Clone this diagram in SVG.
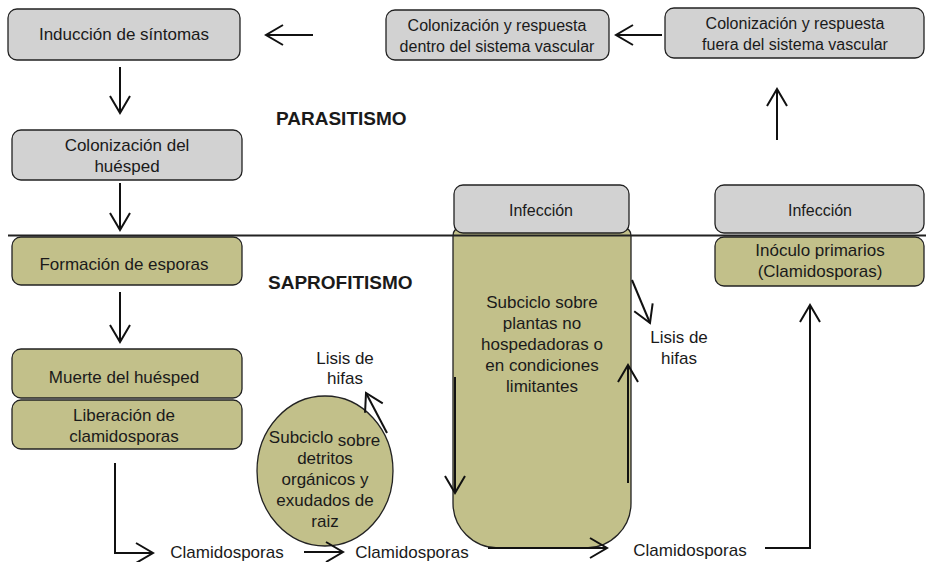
<svg xmlns="http://www.w3.org/2000/svg" width="926" height="562" viewBox="0 0 926 562">
<style>
text{font-family:"Liberation Sans",Arial,sans-serif;font-size:17px;fill:#1a1a1a;text-anchor:middle}
.s{font-size:16px}
.b{font-weight:bold;font-size:19px;text-anchor:start}
.g{fill:#d2d2d2;stroke:#222;stroke-width:1.3}
.o{fill:#c2c08a;stroke:#222;stroke-width:1.3}
.c{fill:none;stroke:#111;stroke-width:2}
</style>
<defs>
<marker id="a" markerUnits="userSpaceOnUse" orient="auto" refX="0" refY="0" overflow="visible">
<path d="M-17,-10 L0,0 L-17,10" fill="none" stroke="#111" stroke-width="2"/>
</marker>
</defs>
<g id="n-subciclo-plantas">
<path class="o" d="M461,228 H623 Q631,228 631,236 V503 A45,45 0 0 1 586,548 H498 A45,45 0 0 1 453,503 V236 Q453,228 461,228 Z"/>
<text x="542" y="308">Subciclo sobre</text>
<text x="542" y="329">plantas no</text>
<text x="542" y="350">hospedadoras o</text>
<text x="542" y="371">en condiciones</text>
<text x="542" y="392">limitantes</text>
</g>
<g id="n-induccion"><rect class="g" x="8" y="9" width="232" height="51" rx="9"/><text x="124" y="40">Inducción de síntomas</text></g>
<g id="n-col-dentro"><rect class="g" x="386" y="10" width="223" height="50" rx="9"/><text class="s" x="497" y="31">Colonización y respuesta</text><text class="s" x="497" y="52">dentro del sistema vascular</text></g>
<g id="n-col-fuera"><rect class="g" x="665" y="8" width="259" height="50" rx="9"/><text class="s" x="795" y="29">Colonización y respuesta</text><text class="s" x="795" y="50">fuera del sistema vascular</text></g>
<g id="n-col-huesped"><rect class="g" x="12" y="130" width="230" height="50" rx="9"/><text x="127" y="151">Colonización del</text><text x="127" y="172">huésped</text></g>
<g id="n-formacion"><rect class="o" x="12" y="237" width="230" height="48" rx="9"/><text x="124" y="270">Formación de esporas</text></g>
<g id="n-muerte"><rect class="o" x="12" y="349" width="230" height="49" rx="9"/><text x="124" y="383">Muerte del huésped</text></g>
<g id="n-liberacion"><rect class="o" x="12" y="400" width="230" height="49" rx="9"/><text x="124" y="421">Liberación de</text><text x="124" y="442">clamidosporas</text></g>
<g id="n-infeccion1"><rect class="g" x="454" y="185" width="175" height="48" rx="9"/><text class="s" x="541" y="216">Infección</text></g>
<g id="n-infeccion2"><rect class="g" x="715" y="185" width="209" height="48" rx="9"/><text class="s" x="820" y="216">Infección</text></g>
<g id="n-inoculo"><rect class="o" x="715" y="237" width="209" height="49" rx="9"/><text x="820" y="256">Inóculo primarios</text><text x="820" y="277">(Clamidosporas)</text></g>
<g id="n-subciclo-detritos">
<ellipse class="o" cx="325" cy="471" rx="68" ry="75"/>
<text x="301" y="443">Subciclo</text><text x="359" y="446">sobre</text>
<text x="325" y="464">detritos</text>
<text x="325" y="485">orgánicos y</text>
<text x="325" y="506">exudados de</text>
<text x="325" y="527">raiz</text>
</g>
<g id="labels">
<text class="b" x="276" y="125">PARASITISMO</text>
<text class="b" x="268" y="289">SAPROFITISMO</text>
<text x="345" y="364">Lisis de</text><text x="345" y="384">hifas</text>
<text x="679" y="343">Lisis de</text><text x="679" y="364">hifas</text>
<text x="227" y="558">Clamidosporas</text>
<text x="412" y="558">Clamidosporas</text>
<text x="690" y="556">Clamidosporas</text>
</g>
<g id="connectors">
<line x1="8" y1="235.5" x2="926" y2="235.5" stroke="#222" stroke-width="2"/>
<path class="c" d="M313,35 H266" marker-end="url(#a)"/>
<path class="c" d="M662,35 H616" marker-end="url(#a)"/>
<path class="c" d="M777,140 V89" marker-end="url(#a)"/>
<path class="c" d="M120,67 V113" marker-end="url(#a)"/>
<path class="c" d="M120,183 V230" marker-end="url(#a)"/>
<path class="c" d="M120,292 V342" marker-end="url(#a)"/>
<path class="c" d="M115,463 V553 H153" marker-end="url(#a)"/>
<path class="c" d="M304,552 H343" marker-end="url(#a)"/>
<path class="c" d="M387,433 L366,393" marker-end="url(#a)"/>
<path class="c" d="M455,377 V493" marker-end="url(#a)"/>
<path class="c" d="M628,483 V365" marker-end="url(#a)"/>
<path class="c" d="M632,280 L650,323" marker-end="url(#a)"/>
<path class="c" d="M488,548 H607" marker-end="url(#a)"/>
<path class="c" d="M765,548 H810 V305" marker-end="url(#a)"/>
</g>
</svg>
